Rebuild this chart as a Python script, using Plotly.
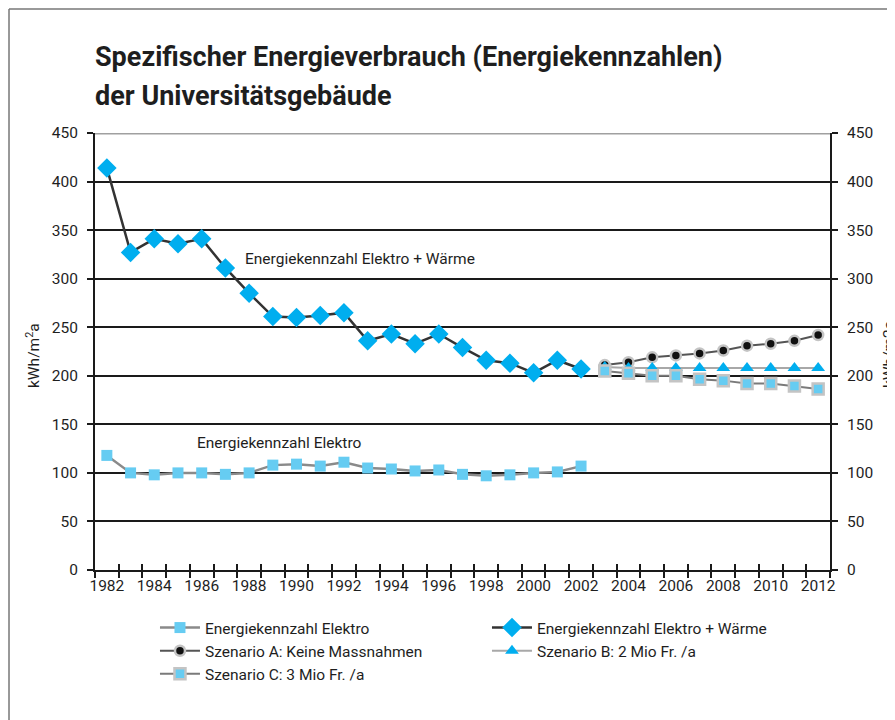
import plotly.graph_objects as go

years_hist = list(range(1982, 2003))
years_scen = list(range(2003, 2013))

elektro = [118, 100, 98, 100, 100, 98.5, 100, 108, 109, 107, 111,
           105, 104, 102, 103, 98.5, 97, 98, 100, 101, 107]
elektro_waerme = [414, 327, 341, 336, 341, 311, 285, 261, 260, 262, 265,
                  236, 243, 233, 243, 229, 216, 213, 203, 216, 207]
szen_a = [211, 214, 219, 221, 223, 226, 231, 233, 236, 242]
szen_b = [209, 208, 208, 208, 208, 208, 208, 208, 208, 208]
szen_c = [205, 202.5, 200, 200, 196.5, 195, 192, 192, 189.5, 186.5]

x_ticks = list(range(1982, 2013, 2))
y_ticks = list(range(0, 451, 50))

title_lines = ["Spezifischer Energieverbrauch (Energiekennzahlen)", "der Universitätsgebäude"]

FONT = "Roboto, Liberation Sans, sans-serif"
TXT = "#1e1e1e"
FS = 15.5

fig = go.Figure()
fig.add_trace(go.Scatter(
    x=years_hist, y=elektro, name="Energiekennzahl Elektro", mode="lines+markers",
    line=dict(color="#8a8a8a", width=2.5),
    marker=dict(symbol="square", size=11, color="#66ccf2")))
fig.add_trace(go.Scatter(
    x=years_hist, y=elektro_waerme, name="Energiekennzahl Elektro + Wärme", mode="lines+markers",
    line=dict(color="#333333", width=2.5),
    marker=dict(symbol="diamond", size=15, color="#00aeef")))
fig.add_trace(go.Scatter(
    x=years_scen, y=szen_a, name="Szenario A: Keine Massnahmen", mode="lines+markers",
    line=dict(color="#555555", width=2),
    marker=dict(symbol="circle", size=10, color="#111111", line=dict(color="#c4c4c4", width=2.5))))
fig.add_trace(go.Scatter(
    x=years_scen, y=szen_b, name="Szenario B: 2 Mio Fr. /a", mode="lines+markers",
    line=dict(color="#a8a8a8", width=2),
    marker=dict(symbol="triangle-up", size=12, color="#00aeef")))
fig.add_trace(go.Scatter(
    x=years_scen, y=szen_c, name="Szenario C: 3 Mio Fr. /a", mode="lines+markers",
    line=dict(color="#7a7a7a", width=2),
    marker=dict(symbol="square", size=11, color="#66ccf2", line=dict(color="#c4c4c4", width=2.5))))
# helper (empty) trace for the overlay axes
fig.add_trace(go.Scatter(x=[], y=[], xaxis="x2", yaxis="y2", showlegend=False, hoverinfo="skip"))

fig.update_layout(
    width=895, height=720,
    margin=dict(l=87, r=73, t=125, b=158, autoexpand=False),
    paper_bgcolor="white", plot_bgcolor="white",
    font=dict(family=FONT, size=FS, color=TXT),
    xaxis=dict(range=[1981.5, 2012.5], tickvals=x_ticks, ticks="",
               showgrid=False, zeroline=False, showline=True, linecolor="#1a1a1a", linewidth=2,
               tickfont=dict(size=FS, color=TXT),
               minor=dict(tickmode="linear", tick0=1981.5, dtick=1, ticks="outside",
                          ticklen=6, tickwidth=2, tickcolor="#1a1a1a", showgrid=False)),
    xaxis2=dict(range=[1981.5, 2012.5], overlaying="x", anchor="y", side="bottom",
                tickmode="linear", tick0=1981.5, dtick=1, ticks="inside", ticklen=6,
                tickwidth=2, tickcolor="#1a1a1a", showticklabels=False,
                showgrid=False, zeroline=False, showline=False),
    yaxis=dict(range=[0, 450], tickvals=y_ticks, showgrid=True, gridcolor="#1a1a1a", gridwidth=2,
               zeroline=False, showline=True, linecolor="#1a1a1a", linewidth=2,
               ticks="outside", ticklen=6, tickwidth=2, tickcolor="#1a1a1a",
               ticklabelstandoff=6, tickfont=dict(size=FS, color=TXT)),
    yaxis2=dict(range=[0, 450], tickvals=y_ticks, overlaying="y", side="right", anchor="x",
                showgrid=False, zeroline=False, showline=True, linecolor="#1a1a1a", linewidth=2,
                ticks="outside", ticklen=6, tickwidth=2, tickcolor="#1a1a1a",
                ticklabelstandoff=6, tickfont=dict(size=FS, color=TXT)),
    legend=dict(orientation="h", x=0.0816, xanchor="left", y=-0.0938, yanchor="top",
                entrywidth=277, entrywidthmode="pixels", itemwidth=40,
                font=dict(size=FS, color=TXT), bgcolor="rgba(0,0,0,0)"),
    showlegend=True,
)

# grey top gridline at 450
fig.add_shape(type="line", xref="paper", yref="y", x0=0, x1=1, y0=450, y1=450,
              line=dict(color="#a0a0a0", width=3), layer="above")
# outer frame (top and left edges)
fig.add_shape(type="line", xref="paper", yref="paper", x0=-0.117, x1=1.12, y0=1.2838, y1=1.2838,
              line=dict(color="#777777", width=1.5))
fig.add_shape(type="line", xref="paper", yref="paper", x0=-0.117, x1=-0.117, y0=1.2838, y1=-0.4,
              line=dict(color="#777777", width=1.5))

fig.add_annotation(text="<b>" + title_lines[0] + "</b>",
                   xref="paper", yref="paper", x=-0.0027, y=1.2151, xanchor="left", yanchor="top",
                   align="left", showarrow=False, font=dict(family=FONT, size=27, color=TXT))
fig.add_annotation(text="<b>" + title_lines[1] + "</b>",
                   xref="paper", yref="paper", x=-0.0027, y=1.1258, xanchor="left", yanchor="top",
                   align="left", showarrow=False, font=dict(family=FONT, size=27, color=TXT))
fig.add_annotation(text="Energiekennzahl Elektro + Wärme", xref="paper", yref="paper",
                   x=0.2014, y=0.7117, xanchor="left", yanchor="middle", showarrow=False,
                   font=dict(size=FS, color=TXT))
fig.add_annotation(text="Energiekennzahl Elektro", xref="paper", yref="paper",
                   x=0.136, y=0.2906, xanchor="left", yanchor="middle", showarrow=False,
                   font=dict(size=FS, color=TXT))
fig.add_annotation(text="kWh/m<sup>2</sup>a", xref="paper", yref="paper",
                   x=-0.083, y=0.492, xanchor="center", yanchor="middle", textangle=-90,
                   showarrow=False, font=dict(size=FS, color=TXT))
fig.add_annotation(text="kWh/m2a", xref="paper", yref="paper",
                   x=1.0803, y=0.492, xanchor="center", yanchor="middle", textangle=-90,
                   showarrow=False, font=dict(size=FS, color=TXT))

fig.write_html("out.html")
